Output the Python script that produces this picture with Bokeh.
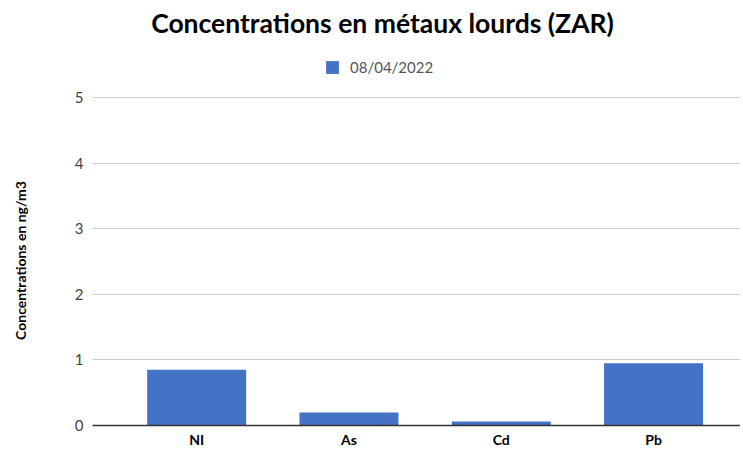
from bokeh.plotting import figure
from bokeh.layouts import column
from bokeh.models import ColumnDataSource, Legend, LegendItem, Range1d, Label, FixedTicker
from bokeh.embed import file_html
from bokeh.resources import INLINE

categories = ["NI", "As", "Cd", "Pb"]
values = [0.85, 0.20, 0.06, 0.95]
series_name = "08/04/2022"
y_ticks = [0, 1, 2, 3, 4, 5]
title_text = "Concentrations en métaux lourds (ZAR)"
y_label = "Concentrations en ng/m3"

FONT = "Lato"
BLUE = "#4472C4"
W = 740
TOP_H = 85
BOT_H = 365

# ---- header figure: title + legend ----
top = figure(width=W, height=TOP_H, output_backend="svg", toolbar_location=None,
             x_range=Range1d(0, 1), y_range=Range1d(0, 1),
             x_axis_location=None, y_axis_location=None)
top.title.visible = False
top.min_border_left = 0
top.min_border_right = 0
top.min_border_top = 0
top.min_border_bottom = 0
top.outline_line_color = None
top.grid.grid_line_color = None

# legend-only renderer (no visible mark)
key = top.vbar(x=[float("nan")], top=[float("nan")], width=0.5, color=BLUE, line_color=None)

top.add_layout(Label(x=290, y=TOP_H - 22, x_units="screen", y_units="screen",
                     text=title_text, text_align="center", text_baseline="middle",
                     text_font=FONT, text_font_size="26.5px", text_font_style="bold",
                     text_color="#000000"))

legend = Legend(items=[LegendItem(label=series_name, renderers=[key])],
                orientation="horizontal", location=(232, 9),
                label_text_font=FONT, label_text_font_size="15px",
                label_text_color="#555555", border_line_color=None,
                glyph_width=16, glyph_height=16, margin=0, padding=4,
                label_standoff=10, background_fill_alpha=0)
top.add_layout(legend, "center")

# ---- chart figure ----
xs = list(range(len(categories)))
src = ColumnDataSource(dict(x=xs, val=values))

p = figure(width=W, height=BOT_H, output_backend="svg", toolbar_location=None,
           x_range=Range1d(-0.684, len(categories) - 1 + 0.571),
           y_range=Range1d(0, 5.03))
p.title.visible = False
p.min_border_left = 92
p.min_border_right = 0
p.min_border_top = 10
p.min_border_bottom = 0
p.outline_line_color = None

p.vbar(x="x", top="val", width=0.65, source=src, color=BLUE, line_color=None)

p.yaxis.ticker = FixedTicker(ticks=y_ticks)
p.yaxis.axis_label = y_label
p.yaxis.axis_label_text_font = FONT
p.yaxis.axis_label_text_font_style = "bold"
p.yaxis.axis_label_text_font_size = "14px"
p.yaxis.axis_label_text_color = "#000000"
p.yaxis.axis_label_standoff = 43
p.yaxis.major_label_text_font = FONT
p.yaxis.major_label_text_font_size = "15px"
p.yaxis.major_label_text_color = "#444444"
p.yaxis.axis_line_color = None
p.yaxis.major_tick_line_color = None
p.yaxis.minor_tick_line_color = None
p.yaxis.major_tick_out = 0
p.yaxis.major_tick_in = 0
p.yaxis.minor_tick_out = 0
p.yaxis.minor_tick_in = 0
p.yaxis.major_label_standoff = 9

p.xaxis.ticker = FixedTicker(ticks=xs)
p.xaxis.major_label_overrides = {i: c for i, c in zip(xs, categories)}
p.xaxis.axis_line_color = "#333333"
p.xaxis.axis_line_width = 1.5
p.xaxis.major_tick_line_color = None
p.xaxis.minor_tick_line_color = None
p.xaxis.major_tick_out = 0
p.xaxis.major_tick_in = 0
p.xaxis.minor_tick_out = 0
p.xaxis.minor_tick_in = 0
p.xaxis.major_label_text_font = FONT
p.xaxis.major_label_text_font_style = "bold"
p.xaxis.major_label_text_font_size = "14px"
p.xaxis.major_label_text_color = "#000000"
p.xaxis.major_label_standoff = 5

p.xgrid.grid_line_color = None
p.ygrid.grid_line_color = "#cccccc"

layout = column(top, p, spacing=0)
open("out.html", "w").write(file_html(layout, INLINE))
